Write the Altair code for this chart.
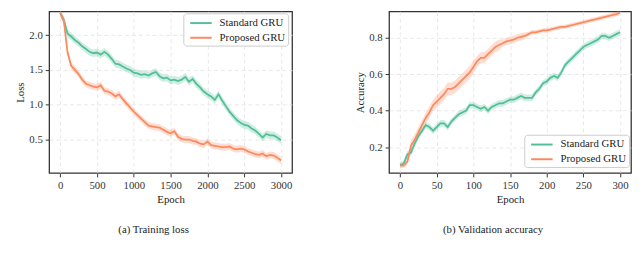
import altair as alt
import pandas as pd

series_names = ["Standard GRU", "Proposed GRU"]
colors = ["#52bf96", "#fc8a5f"]

loss_epochs = list(range(0, 3001, 50))
loss_standard = [2.32, 2.22, 2.02, 1.98, 1.93, 1.89, 1.84, 1.80, 1.76, 1.74,
                 1.75, 1.72, 1.76, 1.72, 1.66, 1.59, 1.58, 1.55, 1.52, 1.50,
                 1.46, 1.45, 1.43, 1.44, 1.42, 1.45, 1.47, 1.41, 1.38, 1.39,
                 1.35, 1.36, 1.34, 1.36, 1.40, 1.33, 1.37, 1.30, 1.25, 1.19,
                 1.15, 1.12, 1.07, 1.15, 1.06, 0.98, 0.90, 0.84, 0.78, 0.74,
                 0.71, 0.70, 0.66, 0.63, 0.58, 0.53, 0.58, 0.56, 0.56, 0.53,
                 0.49]
loss_proposed = [2.32, 2.20, 1.75, 1.56, 1.50, 1.44, 1.36, 1.30, 1.28, 1.26,
                 1.25, 1.28, 1.20, 1.19, 1.16, 1.12, 1.15, 1.08, 1.02, 0.96,
                 0.90, 0.85, 0.80, 0.75, 0.70, 0.69, 0.68, 0.67, 0.64, 0.61,
                 0.59, 0.62, 0.54, 0.51, 0.50, 0.50, 0.48, 0.47, 0.44, 0.43,
                 0.47, 0.42, 0.41, 0.40, 0.39, 0.39, 0.40, 0.37, 0.36, 0.37,
                 0.36, 0.33, 0.31, 0.29, 0.28, 0.30, 0.26, 0.28, 0.27, 0.24,
                 0.20]
loss_band_standard = 0.055
loss_band_proposed = 0.05

acc_epochs = list(range(0, 301, 5))
acc_standard = [0.10, 0.11, 0.16, 0.17, 0.22, 0.26, 0.29, 0.32, 0.31, 0.29,
                0.31, 0.33, 0.33, 0.31, 0.34, 0.36, 0.38, 0.39, 0.40, 0.43,
                0.43, 0.42, 0.41, 0.42, 0.40, 0.42, 0.43, 0.44, 0.44, 0.45,
                0.46, 0.46, 0.47, 0.48, 0.47, 0.47, 0.47, 0.50, 0.52, 0.55,
                0.56, 0.58, 0.59, 0.58, 0.61, 0.65, 0.67, 0.69, 0.71, 0.73,
                0.75, 0.76, 0.77, 0.78, 0.79, 0.81, 0.81, 0.80, 0.81, 0.82,
                0.83]
acc_proposed = [0.10, 0.10, 0.12, 0.21, 0.24, 0.28, 0.32, 0.36, 0.39, 0.43,
                0.45, 0.47, 0.49, 0.52, 0.52, 0.53, 0.55, 0.57, 0.59, 0.61,
                0.64, 0.67, 0.69, 0.69, 0.71, 0.73, 0.75, 0.76, 0.77, 0.78,
                0.785, 0.79, 0.80, 0.805, 0.81, 0.82, 0.83, 0.83, 0.835, 0.84,
                0.84, 0.845, 0.85, 0.855, 0.86, 0.86, 0.865, 0.87, 0.875, 0.88,
                0.885, 0.89, 0.895, 0.90, 0.905, 0.91, 0.915, 0.92, 0.925, 0.93,
                0.937]
acc_band_standard = 0.018
acc_band_proposed = [0.01, 0.015, 0.02, 0.03, 0.03, 0.03, 0.03, 0.03, 0.03, 0.03,
                     0.035, 0.035, 0.035, 0.035, 0.035, 0.035, 0.035, 0.035, 0.035, 0.035,
                     0.035, 0.03, 0.03, 0.03, 0.03, 0.03, 0.03, 0.03, 0.02, 0.02,
                     0.02, 0.02, 0.02, 0.02, 0.02, 0.012, 0.012, 0.012, 0.012, 0.012,
                     0.012, 0.012, 0.012, 0.012, 0.012, 0.012, 0.012, 0.012, 0.012, 0.012,
                     0.012, 0.012, 0.012, 0.012, 0.012, 0.012, 0.012, 0.012, 0.012, 0.012,
                     0.012]

FONT = "Liberation Serif"


def build_frame(epochs, vals_list, bands_list):
    rows = []
    for name, vals, band in zip(series_names, vals_list, bands_list):
        if isinstance(band, (int, float)):
            band = [band] * len(vals)
        for e, v, b in zip(epochs, vals, band):
            rows.append(dict(epoch=e, series=name, value=v, lo=v - b, hi=v + b))
    return pd.DataFrame(rows)


def panel(df, xdom, xticks, ydom, yticks, ytitle, caption, lx, ly, w, h):
    xs = alt.Scale(domain=xdom, nice=False, zero=False)
    ys = alt.Scale(domain=ydom, nice=False, zero=False)
    cs = alt.Scale(domain=series_names, range=colors)
    xax = alt.Axis(values=xticks, title="Epoch", format="d")
    yax = alt.Axis(values=yticks, title=ytitle, format=".1f")
    layers = []
    for name, col in zip(series_names, colors):
        layers.append(
            alt.Chart(df).transform_filter(alt.datum.series == name)
            .mark_area(opacity=0.28, clip=True, color=col).encode(
                x=alt.X("epoch:Q", scale=xs, axis=xax),
                y=alt.Y("lo:Q", scale=ys, axis=yax),
                y2="hi:Q",
            )
        )
    line = alt.Chart(df).mark_line(strokeWidth=1.8, clip=True).encode(
        x=alt.X("epoch:Q", scale=xs, axis=xax),
        y=alt.Y("value:Q", scale=ys, axis=yax),
        color=alt.Color("series:N", scale=cs, title=None,
                        legend=alt.Legend(orient="none", legendX=lx, legendY=ly)),
    )
    layers.append(line)
    return alt.layer(*layers).properties(
        width=w, height=h,
        title=alt.TitleParams(caption, orient="bottom", offset=20, fontSize=11,
                              font=FONT, fontWeight="normal", color="#222",
                              anchor="middle", frame="bounds"),
    )


loss_df = build_frame(loss_epochs, [loss_standard, loss_proposed],
                      [loss_band_standard, loss_band_proposed])
acc_df = build_frame(acc_epochs, [acc_standard, acc_proposed],
                     [acc_band_standard, acc_band_proposed])

left = panel(loss_df, [-150, 3150], [0, 500, 1000, 1500, 2000, 2500, 3000],
             [0.02, 2.342], [0.5, 1.0, 1.5, 2.0], "Loss", "(a) Training loss",
             137, 2, 248, 165)
right = panel(acc_df, [-15, 315], [0, 50, 100, 150, 200, 250, 300],
              [0.058, 0.945], [0.2, 0.4, 0.6, 0.8], "Accuracy",
              "(b) Validation accuracy", 138, 126, 247, 165)

chart = alt.hconcat(left, right, spacing=62).resolve_scale(
    color="independent"
).properties(
    padding={"left": 6, "top": 0, "right": 0, "bottom": 0}
).configure_axis(
    labelFont=FONT, labelFontSize=11, labelColor="#333",
    titleFont=FONT, titleFontSize=11, titleFontWeight="normal", titleColor="#222",
    tickColor="#333", tickSize=4, tickWidth=1, domain=False,
    grid=True, gridColor="#e2e2e2", gridDash=[4, 3], gridWidth=0.8,
    labelPadding=3, titlePadding=3,
).configure_legend(
    labelFont=FONT, labelFontSize=11, labelColor="#222",
    symbolType="M-1.83,0H1.83", symbolSize=144, symbolStrokeWidth=2,
    symbolOffset=8, labelOffset=12, rowPadding=3, padding=3,
    strokeColor="#cccccc", fillColor="white", cornerRadius=3,
).configure_view(stroke="#333333", strokeWidth=1.3)

chart.save("out.html", embed_options={"renderer": "svg", "actions": False})
